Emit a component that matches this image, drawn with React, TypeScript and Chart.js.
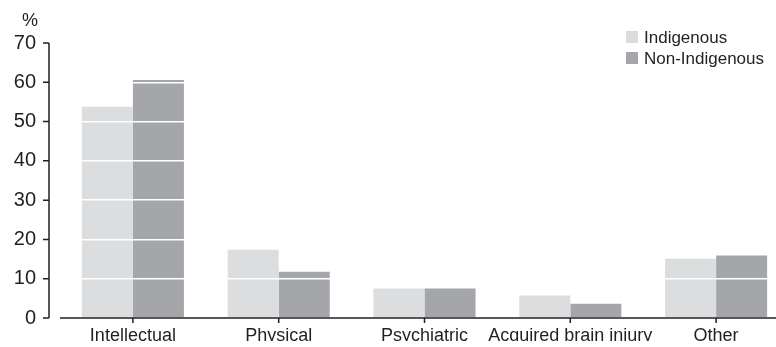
import React, { useEffect, useRef } from "react";
import { Chart, registerables } from "chart.js";

Chart.register(...registerables);

const categories = ["Intellectual", "Physical", "Psychiatric", "Acquired brain injury", "Other"];
const indigenous = [53.8, 17.4, 7.5, 5.7, 15.1];
const nonIndigenous = [60.6, 11.8, 7.5, 3.6, 15.9];
const seriesNames = ["Indigenous", "Non-Indigenous"];
const seriesColors = ["#dcdddf", "#a5a6a9"];
const yMin = 0;
const yMax = 70;
const yStep = 10;

const FONT = "'Liberation Sans', Arial, sans-serif";
const INK = "#231f20";

const decorPlugin = {
  id: "decor",
  afterDraw(chart: any) {
    const ctx = chart.ctx;
    const area = chart.chartArea;
    const xs = chart.scales.x;
    const ys = chart.scales.y;
    ctx.save();
    ctx.strokeStyle = INK;
    ctx.lineWidth = 1.5;
    const ax = area.left - 11;
    const yTop = ys.getPixelForValue(yMax);
    const yBot = ys.getPixelForValue(yMin);
    ctx.beginPath();
    ctx.moveTo(ax, yTop);
    ctx.lineTo(ax, yBot);
    ys.ticks.forEach((t: any) => {
      const p = ys.getPixelForValue(t.value);
      ctx.moveTo(ax - 6, p);
      ctx.lineTo(ax, p);
    });
    ctx.stroke();
    ctx.beginPath();
    ctx.moveTo(area.left, yBot);
    ctx.lineTo(area.right + 20, yBot);
    categories.forEach((_, i) => {
      const px = xs.getPixelForValue(i);
      ctx.moveTo(px, yBot);
      ctx.lineTo(px, yBot + 5);
    });
    ctx.stroke();
    ctx.fillStyle = INK;
    ctx.font = `18px ${FONT}`;
    ctx.textAlign = "center";
    ctx.textBaseline = "middle";
    ctx.fillText("%", 30, 21);
    ctx.font = `17px ${FONT}`;
    ctx.textAlign = "left";
    seriesNames.forEach((name, i) => {
      const cy = 37 + i * 21;
      ctx.fillStyle = seriesColors[i];
      ctx.fillRect(626, cy - 6, 12, 12);
      ctx.fillStyle = INK;
      ctx.fillText(name, 644, cy + 1);
    });
    ctx.restore();
  },
};

export default function App() {
  const ref = useRef<HTMLCanvasElement | null>(null);
  useEffect(() => {
    if (!ref.current) return;
    const chart = new Chart(ref.current, {
      type: "bar",
      data: {
        labels: categories,
        datasets: [
          { label: seriesNames[0], data: indigenous, backgroundColor: seriesColors[0], borderWidth: 0 },
          { label: seriesNames[1], data: nonIndigenous, backgroundColor: seriesColors[1], borderWidth: 0 },
        ],
      },
      options: {
        animation: false,
        responsive: true,
        maintainAspectRatio: false,
        layout: { padding: { top: 43, right: 11, left: 0, bottom: 0 } },
        datasets: { bar: { categoryPercentage: 0.7, barPercentage: 1 } },
        plugins: { legend: { display: false }, tooltip: { enabled: false }, title: { display: false } },
        scales: {
          x: {
            offset: true,
            grid: { display: false, drawTicks: false },
            border: { display: false },
            ticks: { color: INK, font: { family: FONT, size: 18 }, padding: 7, maxRotation: 0, autoSkip: false },
            afterFit: (s: any) => { s.height = 23; },
          },
          y: {
            min: yMin,
            max: yMax,
            ticks: { stepSize: yStep, color: INK, font: { family: FONT, size: 20 }, padding: 24 },
            grid: { color: "#ffffff", lineWidth: 1.5, drawTicks: false, z: 1 },
            border: { display: false },
            afterFit: (s: any) => { s.width = 60; },
          },
        },
      },
      plugins: [decorPlugin],
    });
    return () => chart.destroy();
  }, []);
  return (
    <div style={{ position: "fixed", left: 0, top: 0, width: 776, height: 347, overflow: "hidden", background: "#fff" }}>
      <div style={{ position: "relative", width: 800, height: 354 }}>
        <canvas ref={ref} />
      </div>
    </div>
  );
}
